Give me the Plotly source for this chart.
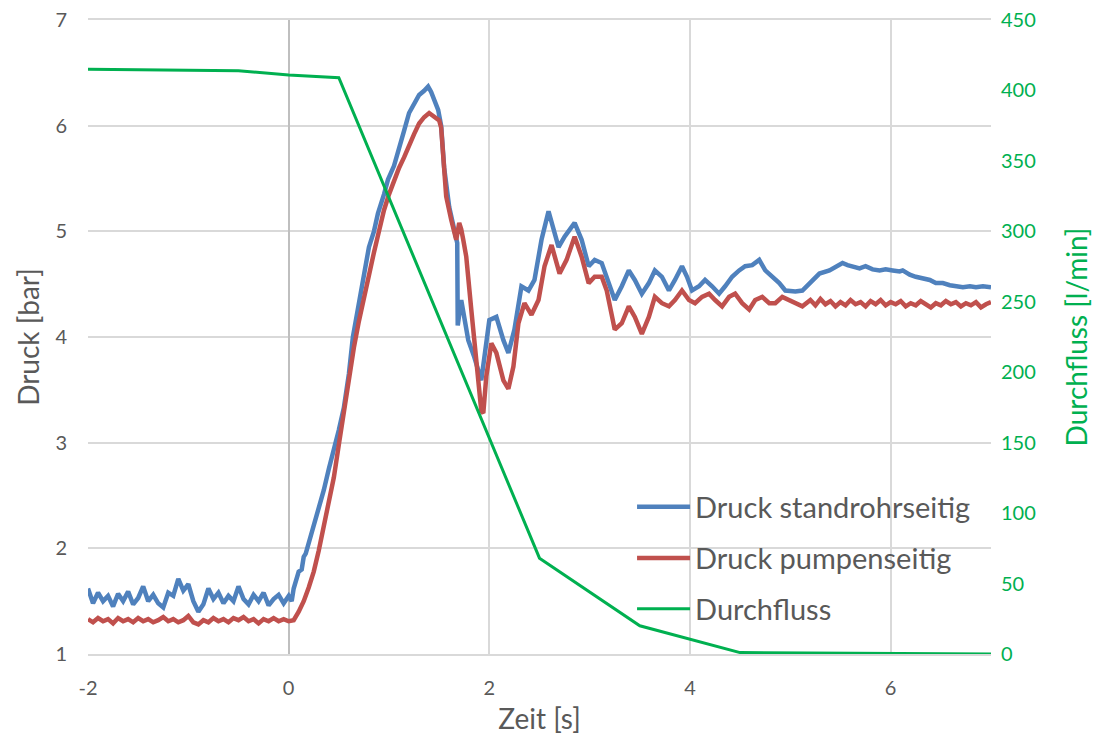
import plotly.graph_objects as go

# ---------------- data ----------------
t_base = [-2.00, -1.95, -1.90, -1.85, -1.80, -1.75, -1.70, -1.65, -1.60, -1.55,
          -1.50, -1.45, -1.40, -1.35, -1.30, -1.25, -1.20, -1.15, -1.10, -1.05,
          -1.00, -0.95, -0.90, -0.85, -0.80, -0.75, -0.70, -0.65, -0.60, -0.55,
          -0.50, -0.45, -0.40, -0.35, -0.30, -0.25, -0.20, -0.15, -0.10, -0.05]
p_std_base = [1.62, 1.48, 1.58, 1.50, 1.55, 1.45, 1.57, 1.50, 1.59, 1.47,
              1.53, 1.64, 1.50, 1.56, 1.48, 1.44, 1.58, 1.55, 1.71, 1.60,
              1.66, 1.50, 1.40, 1.47, 1.62, 1.52, 1.58, 1.48, 1.55, 1.50,
              1.64, 1.52, 1.47, 1.56, 1.50, 1.58, 1.46, 1.52, 1.56, 1.48]
p_pump_base = [1.33, 1.30, 1.34, 1.31, 1.33, 1.29, 1.34, 1.31, 1.33, 1.30,
               1.34, 1.31, 1.33, 1.30, 1.32, 1.35, 1.31, 1.33, 1.30, 1.32,
               1.36, 1.30, 1.28, 1.32, 1.30, 1.34, 1.31, 1.33, 1.30, 1.34,
               1.32, 1.35, 1.31, 1.33, 1.29, 1.33, 1.31, 1.34, 1.31, 1.33]

t_std = [0.00, 0.03, 0.05, 0.08, 0.10, 0.13, 0.15, 0.17, 0.20, 0.25, 0.30, 0.35,
         0.40, 0.45, 0.50, 0.55, 0.60, 0.64, 0.70, 0.75, 0.80, 0.85, 0.89, 0.95,
         0.99, 1.05, 1.09, 1.15, 1.20, 1.25, 1.30, 1.35, 1.39, 1.42, 1.45, 1.49,
         1.52, 1.55, 1.60, 1.65, 1.68, 1.685, 1.72, 1.79, 1.85, 1.92, 1.95, 2.00,
         2.07, 2.14, 2.19, 2.25, 2.32, 2.39, 2.45, 2.52, 2.59, 2.64, 2.69, 2.75,
         2.80, 2.85, 2.92, 2.99, 3.05, 3.12, 3.19, 3.25, 3.32, 3.39, 3.45, 3.52,
         3.59, 3.65, 3.72, 3.79, 3.85, 3.92, 3.97, 4.02, 4.09, 4.15, 4.22, 4.29,
         4.35, 4.42, 4.49, 4.55, 4.62, 4.69, 4.75, 4.82, 4.89, 4.95, 5.05, 5.12,
         5.19, 5.29, 5.39, 5.45, 5.52, 5.57, 5.62, 5.69, 5.75, 5.82, 5.89, 5.95,
         6.02, 6.09, 6.12, 6.19, 6.25, 6.32, 6.39, 6.45, 6.52, 6.59, 6.65, 6.72,
         6.79, 6.85, 6.92, 7.00]
p_std = [1.55, 1.50, 1.62, 1.72, 1.78, 1.80, 1.92, 1.95, 2.05, 2.22, 2.35, 2.55,
         2.75, 2.92, 3.12, 3.33, 3.65, 4.00, 4.30, 4.60, 4.85, 5.00, 5.17, 5.35,
         5.49, 5.62, 5.74, 5.95, 6.12, 6.20, 6.29, 6.33, 6.37, 6.32, 6.24, 6.15,
         6.00, 5.60, 5.23, 5.01, 4.89, 4.11, 4.35, 3.97, 3.81, 3.59, 3.80, 4.16,
         4.19, 3.97, 3.85, 4.07, 4.48, 4.44, 4.54, 4.92, 5.19, 5.01, 4.85, 4.95,
         5.01, 5.08, 4.92, 4.67, 4.73, 4.70, 4.51, 4.35, 4.48, 4.63, 4.54, 4.41,
         4.51, 4.63, 4.57, 4.44, 4.54, 4.67, 4.57, 4.44, 4.48, 4.54, 4.48, 4.41,
         4.48, 4.57, 4.63, 4.67, 4.68, 4.73, 4.63, 4.57, 4.51, 4.44, 4.43, 4.44,
         4.51, 4.60, 4.63, 4.66, 4.70, 4.68, 4.67, 4.65, 4.67, 4.64, 4.63, 4.64,
         4.63, 4.62, 4.63, 4.59, 4.57, 4.55, 4.54, 4.51, 4.51, 4.49, 4.48, 4.47,
         4.48, 4.47, 4.48, 4.47]

t_pump = [0.00, 0.05, 0.10, 0.15, 0.20, 0.25, 0.30, 0.35, 0.40, 0.45, 0.50, 0.55,
          0.60, 0.65, 0.70, 0.75, 0.80, 0.85, 0.90, 0.95, 1.00, 1.05, 1.10, 1.15,
          1.20, 1.25, 1.30, 1.35, 1.40, 1.45, 1.50, 1.52, 1.55, 1.57, 1.62, 1.67,
          1.70, 1.72, 1.74, 1.77, 1.82, 1.87, 1.92, 1.94, 1.97, 2.02, 2.07, 2.14,
          2.19, 2.24, 2.29, 2.35, 2.42, 2.49, 2.55, 2.62, 2.67, 2.70, 2.77, 2.85,
          2.92, 2.99, 3.05, 3.12, 3.17, 3.22, 3.25, 3.32, 3.39, 3.45, 3.52, 3.59,
          3.65, 3.72, 3.79, 3.85, 3.92, 3.99, 4.05, 4.12, 4.19, 4.25, 4.32, 4.39,
          4.45, 4.52, 4.59, 4.65, 4.72, 4.79, 4.85, 4.92, 4.99, 5.05, 5.12, 5.20,
          5.25, 5.30, 5.35, 5.40, 5.45, 5.50, 5.55, 5.60, 5.65, 5.70, 5.75, 5.80,
          5.85, 5.90, 5.95, 6.00, 6.05, 6.10, 6.15, 6.20, 6.25, 6.30, 6.35, 6.40,
          6.45, 6.50, 6.55, 6.60, 6.65, 6.70, 6.75, 6.80, 6.85, 6.90, 6.95, 7.00]
p_pump = [1.31, 1.32, 1.40, 1.50, 1.63, 1.78, 1.98, 2.22, 2.45, 2.67, 2.98, 3.31,
          3.62, 3.90, 4.15, 4.38, 4.60, 4.80, 5.00, 5.20, 5.35, 5.48, 5.60, 5.70,
          5.82, 5.92, 6.02, 6.08, 6.12, 6.09, 6.05, 5.98, 5.65, 5.33, 5.11, 4.92,
          5.08, 5.02, 4.92, 4.76, 4.26, 3.72, 3.30, 3.28, 3.63, 3.94, 3.85, 3.59,
          3.51, 3.72, 4.13, 4.32, 4.21, 4.35, 4.67, 4.87, 4.70, 4.60, 4.73, 4.95,
          4.76, 4.51, 4.57, 4.57, 4.44, 4.22, 4.07, 4.13, 4.29, 4.19, 4.03, 4.19,
          4.38, 4.32, 4.29, 4.35, 4.44, 4.35, 4.32, 4.38, 4.41, 4.35, 4.29, 4.38,
          4.41, 4.32, 4.26, 4.35, 4.38, 4.32, 4.32, 4.38, 4.35, 4.32, 4.29, 4.35,
          4.30, 4.36, 4.31, 4.34, 4.29, 4.33, 4.30, 4.35, 4.31, 4.33, 4.29, 4.34,
          4.31, 4.35, 4.30, 4.33, 4.31, 4.34, 4.29, 4.32, 4.30, 4.34, 4.31, 4.28,
          4.32, 4.30, 4.34, 4.31, 4.33, 4.29, 4.32, 4.30, 4.33, 4.28, 4.31, 4.33]

t_flow = [-2.0, -0.5, 0.0, 0.5, 2.5, 3.5, 4.5, 7.0]
q_flow = [415, 414, 411, 409, 68, 20, 1, 0]

x_tickvals = [-2, 0, 2, 4, 6]
x_ticktext = ["-2", "0", "2", "4", "6"]

BLUE = "#4F81BD"
RED = "#C0504D"
GREEN = "#00B050"
GRAY_TXT = "#595959"
FONT = "Lato"

fig = go.Figure()
fig.add_trace(go.Scatter(x=t_base + t_std, y=p_std_base + p_std, mode="lines",
                         name="Druck standrohrseitig", legend="legend",
                         line=dict(color=BLUE, width=4.5)))
fig.add_trace(go.Scatter(x=t_base + t_pump, y=p_pump_base + p_pump, mode="lines",
                         name="Druck pumpenseitig", legend="legend2",
                         line=dict(color=RED, width=4.5)))
fig.add_trace(go.Scatter(x=t_flow, y=q_flow, mode="lines", name="Durchfluss",
                         yaxis="y2", legend="legend3",
                         line=dict(color=GREEN, width=3)))

leg_common = dict(x=0.6025, xanchor="left", yanchor="middle",
                  bgcolor="rgba(0,0,0,0)", font=dict(size=29, color=GRAY_TXT,
                                                      family=FONT),
                  itemwidth=53)

fig.update_layout(
    width=1103, height=740,
    margin=dict(l=80, r=120, t=12, b=94, autoexpand=False),
    paper_bgcolor="white", plot_bgcolor="white",
    font=dict(family=FONT, color=GRAY_TXT, size=20),
    xaxis=dict(range=[-2, 7], tickvals=x_tickvals, ticktext=x_ticktext,
               showgrid=True, gridcolor="#D9D9D9", gridwidth=1.5,
               zeroline=True, zerolinecolor="#BFBFBF", zerolinewidth=1.5,
               showline=True, linecolor="#D9D9D9", linewidth=1.5, mirror=True,
               ticks="outside", ticklen=15, tickcolor="rgba(0,0,0,0)",
               automargin=False, ticklabeloverflow="allow",
               tickfont=dict(size=20, color=GRAY_TXT),
               title=dict(text="Zeit [s]", font=dict(size=28, color=GRAY_TXT),
                          standoff=12)),
    yaxis=dict(range=[1, 7], dtick=1, showgrid=True, gridcolor="#D9D9D9",
               gridwidth=1.5, zeroline=False, showline=False,
               ticks="outside", ticklen=16, tickcolor="rgba(0,0,0,0)",
               automargin=False, ticklabeloverflow="allow",
               tickfont=dict(size=20, color=GRAY_TXT),
               title=dict(text="Druck [bar]", font=dict(size=28, color=GRAY_TXT),
                          standoff=7)),
    yaxis2=dict(range=[0, 450], dtick=50, overlaying="y", side="right",
                showgrid=False, zeroline=False, showline=False,
                ticks="outside", ticklen=5, tickcolor="rgba(0,0,0,0)",
                automargin=False, ticklabeloverflow="allow",
                tickfont=dict(size=20, color=GREEN),
                title=dict(text="Durchfluss [l/min]",
                           font=dict(size=28, color=GREEN), standoff=32)),
    legend=dict(y=0.232, **leg_common),
    legend2=dict(y=0.151, **leg_common),
    legend3=dict(y=0.071, **leg_common),
    showlegend=True,
)

fig.write_html("out.html")
